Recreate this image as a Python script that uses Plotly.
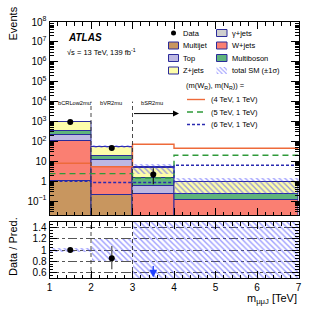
import numpy as np
import plotly.graph_objects as go

# ---------------- data ----------------
bin_edges = [1, 2, 3, 4, 7]
region_edges = [2, 3]
region_labels = ["bCRLow2mu", "bVR2mu", "bSR2mu"]

bkg_names = ["Multijet", "W+jets", "Top", "Multiboson", "Z+jets", "γ+jets"]
multijet = [1.0, 0.21, 0.0, 0.0]
wjets = [100.0, 5.2, 0.22, 0.11]
top = [120.0, 5.9, 0.36, 0.0]
multiboson = [110.0, 7.4, 0.90, 0.11]
zjets = [615.0, 36.0, 3.3, 0.70]
gjets = [4.0, 0.3, 0.1, 0.0]

data_vals = [950.0, 47.0, 2.2]
data_err_lo = [30.0, 11.0, 1.5]
data_err_hi = [32.0, 12.0, 2.3]

band_lo = [912.0, 44.0, 2.3, 0.22]
band_hi = [988.0, 66.0, 7.5, 1.5]

sig_4tev = [8.0, 5.3, 72.0, 45.0]
sig_5tev = [2.4, 2.4, 1.45, 20.0]
sig_6tev = [1.0, 0.86, 0.86, 6.3]

ymin, ymax = 0.02, 1e8
rmin, rmax = 0.5, 1.5

# ---------------- styles ----------------
W, H = 332, 316
FONT = "Liberation Sans"
bkg_colors = ["#c8965f", "#fa7f72", "#bdb8e2", "#5fb47c", "#fdfdaa", "#cfcfcf"]
edge_col = "#2b2b9a"
hatch_col = "#3c3cff"
sig_cols = ["#ee6a3a", "#2f9a3a", "#2a2ab0"]


def px(x):
    return x / W


def py(y):
    return 1 - y / H


edges = np.array(bin_edges, dtype=float)
centers = 0.5 * (edges[:-1] + edges[1:])
widths = edges[1:] - edges[:-1]

layers = np.array([multijet, wjets, top, multiboson, zjets, gjets])
cum = np.cumsum(layers, axis=0)
total = cum[-1]

fig = go.Figure()

# stacked backgrounds
for i, name in enumerate(bkg_names):
    base = cum[i] - layers[i]
    base = np.where(base <= 0, 1e-4, base)
    fig.add_trace(go.Bar(
        x=centers, y=layers[i], base=base, width=widths, name=name,
        marker=dict(color=bkg_colors[i], line=dict(color=edge_col, width=1)),
        xaxis="x", yaxis="y", showlegend=False, hoverinfo="skip"))

# uncertainty band (main)
blo = np.array(band_lo)
bhi = np.array(band_hi)
hatch = dict(shape="\\", fgcolor=hatch_col, bgcolor="rgba(0,0,0,0)", size=4, solidity=0.35, fillmode="overlay")
fig.add_trace(go.Bar(
    x=centers, y=bhi - blo, base=blo, width=widths,
    marker=dict(color="rgba(0,0,0,0)", pattern=hatch, line=dict(width=0)),
    xaxis="x", yaxis="y", showlegend=False, hoverinfo="skip"))

# ratio band
rlo = blo / total
rhi = bhi / total
fig.add_trace(go.Bar(
    x=centers, y=rhi - rlo, base=rlo, width=widths,
    marker=dict(color="rgba(0,0,0,0)", pattern=hatch, line=dict(width=0)),
    xaxis="x2", yaxis="y2", showlegend=False, hoverinfo="skip"))

# signal step lines
dashes = ["solid", "6px,4px", "3px,2px"]
for vals, col, d in zip([sig_4tev, sig_5tev, sig_6tev], sig_cols, dashes):
    fig.add_trace(go.Scatter(
        x=edges, y=list(vals) + [vals[-1]], mode="lines", line_shape="hv",
        line=dict(color=col, width=1.4, dash=d),
        xaxis="x", yaxis="y", showlegend=False, hoverinfo="skip"))

# region separators
for e in region_edges:
    for ya, lo, hi in [("y", ymin, 1e4), ("y2", rmin, rmax)]:
        fig.add_trace(go.Scatter(
            x=[e, e], y=[lo, hi], mode="lines",
            line=dict(color="#333333", width=0.9, dash="4px,3px"),
            xaxis="x" if ya == "y" else "x2", yaxis=ya, showlegend=False, hoverinfo="skip"))

# data
nd = len(data_vals)
fig.add_trace(go.Scatter(
    x=centers[:nd], y=data_vals, mode="markers",
    marker=dict(color="black", size=6),
    error_y=dict(type="data", symmetric=False, array=data_err_hi, arrayminus=data_err_lo,
                 color="black", thickness=1, width=0),
    xaxis="x", yaxis="y", showlegend=False, hoverinfo="skip"))

ratio = np.array(data_vals) / total[:nd]
r_hi = np.array(data_err_hi) / total[:nd]
r_lo = np.array(data_err_lo) / total[:nd]
inrange = ratio >= rmin
fig.add_trace(go.Scatter(
    x=[float(v) for v in centers[:nd][inrange]], y=[float(v) for v in ratio[inrange]], mode="markers",
    marker=dict(color="black", size=6),
    error_y=dict(type="data", symmetric=False, visible=True,
                 array=[float(v) for v in r_hi[inrange]], arrayminus=[float(v) for v in r_lo[inrange]],
                 color="#707070", thickness=1.5, width=0),
    xaxis="x2", yaxis="y2", showlegend=False, hoverinfo="skip"))

annotations = []
shapes = []
# out-of-range arrows in ratio
for c, r in zip(centers[:nd], ratio):
    if r < rmin:
        annotations.append(dict(
            x=c, y=rmin + 0.01, ax=c, ay=rmin + 0.24, xref="x2", yref="y2", axref="x2", ayref="y2",
            showarrow=True, arrowhead=2, arrowsize=1.2, arrowwidth=1.3, arrowcolor="#2040ff", text=""))

# region labels and SR arrow
for e, lab in zip(edges[:3], region_labels):
    annotations.append(dict(x=e + 0.16, y=np.log10(8500), xref="x", yref="y", text=lab, showarrow=False,
                            xanchor="left", font=dict(family=FONT, size=5.7, color="black"), yanchor="middle"))
annotations.append(dict(x=4.12, y=np.log10(2500), ax=3.0, ay=np.log10(2500), xref="x", yref="y",
                        axref="x", ayref="y", showarrow=True, arrowhead=2, arrowsize=1.2,
                        arrowwidth=1, arrowcolor="black", text=""))

# ---------------- axes ----------------
xdom = [px(49.5), px(298.5)]
main_dom = [py(215), py(22)]
ratio_dom = [py(278), py(222)]

yt = [1e-1, 1, 10, 1e2, 1e3, 1e4, 1e5, 1e6, 1e7, 1e8]
ytt = ["10<sup>−1</sup>", "1", "10", "10<sup>2</sup>", "10<sup>3</sup>", "10<sup>4</sup>",
       "10<sup>5</sup>", "10<sup>6</sup>", "10<sup>7</sup>", "10<sup>8</sup>"]
yminor = [m * 10.0 ** k for k in range(-2, 8) for m in range(2, 10) if ymin <= m * 10.0 ** k <= ymax]

axis_common = dict(showline=True, linecolor="black", linewidth=1, mirror="allticks",
                   ticks="inside", tickcolor="black", zeroline=False, automargin=False,
                   tickfont=dict(family=FONT, size=10, color="black"))

fig.update_layout(
    width=W, height=H, margin=dict(l=0, r=0, t=0, b=0),
    paper_bgcolor="white", plot_bgcolor="rgba(0,0,0,0)",
    barmode="overlay", showlegend=False, bargap=0,
    xaxis=dict(domain=xdom, range=[1, 7], anchor="y", tickvals=[1, 2, 3, 4, 5, 6, 7],
               ticklen=7, showticklabels=False, showgrid=False,
               minor=dict(dtick=0.2, ticklen=3.5, ticks="inside", tickcolor="black"), **axis_common),
    yaxis=dict(domain=main_dom, type="log", range=[np.log10(ymin), np.log10(ymax)], anchor="x",
               tickvals=yt, ticktext=ytt, ticklen=8, showgrid=False,
               minor=dict(tickvals=yminor, ticklen=4, ticks="inside", tickcolor="black"), **axis_common),
    xaxis2=dict(domain=xdom, range=[1, 7], anchor="y2", tickvals=[1, 2, 3, 4, 5, 6, 7],
                ticktext=["1", "2", "3", "4", "5", "6", "7"], ticklen=7, showgrid=False,
                minor=dict(dtick=0.2, ticklen=3.5, ticks="inside", tickcolor="black"), **axis_common),
    yaxis2=dict(domain=ratio_dom, range=[rmin, rmax], anchor="x2",
                tickvals=[0.6, 0.8, 1.0, 1.2, 1.4], ticktext=["0.6", "0.8", "1", "1.2", "1.4"],
                ticklen=7, minor=dict(dtick=0.05, ticklen=3.5, ticks="inside", tickcolor="black"),
                showgrid=True, gridcolor="#555555", gridwidth=0.7, griddash="dashdot", **axis_common),
    xaxis3=dict(domain=[0, 1], range=[0, W], anchor="y3", visible=False, fixedrange=True, automargin=False),
    yaxis3=dict(domain=[0, 1], range=[H, 0], anchor="x3", visible=False, fixedrange=True, automargin=False),
)

# ---------------- legend (drawn manually in pixel axis) ----------------
lf = dict(family=FONT, size=7.5, color="black")
rows = [33, 45.5, 58, 70.5]
col1 = [("Data", None), ("Multijet", bkg_colors[0]), ("Top", bkg_colors[2]), ("Z+jets", bkg_colors[4])]
col2 = [("γ+jets", bkg_colors[5]), ("W+jets", bkg_colors[1]), ("Multiboson", bkg_colors[3]),
        ("total SM (±1σ)", "hatch")]
for (lab, col), yy in zip(col1, rows):
    if col is None:
        fig.add_trace(go.Scatter(x=[173.5], y=[yy], mode="markers", marker=dict(color="black", size=5),
                                 xaxis="x3", yaxis="y3", showlegend=False, hoverinfo="skip"))
    else:
        shapes.append(dict(type="rect", xref="x3", yref="y3", x0=168.5, x1=178.5, y0=yy - 3.5, y1=yy + 3.5,
                           fillcolor=col, line=dict(color=edge_col, width=1)))
    annotations.append(dict(x=181, y=yy, xref="x3", yref="y3", text=lab, showarrow=False,
                            xanchor="left", yanchor="middle", font=lf))
for (lab, col), yy in zip(col2, rows):
    if col == "hatch":
        fig.add_trace(go.Scatter(x=[216.5, 227, 227, 216.5, 216.5], y=[yy - 3.5, yy - 3.5, yy + 3.5, yy + 3.5, yy - 3.5],
                                 mode="lines", fill="toself", fillcolor="rgba(0,0,0,0)", line=dict(width=0),
                                 fillpattern=dict(shape="\\", fgcolor=hatch_col, size=3, solidity=0.35),
                                 xaxis="x3", yaxis="y3", showlegend=False, hoverinfo="skip"))
    else:
        shapes.append(dict(type="rect", xref="x3", yref="y3", x0=216.5, x1=227, y0=yy - 3.5, y1=yy + 3.5,
                           fillcolor=col, line=dict(color=edge_col, width=1)))
    annotations.append(dict(x=230, y=yy, xref="x3", yref="y3", text=lab, showarrow=False,
                            xanchor="left", yanchor="middle", font=lf))

annotations.append(dict(x=184, y=86, xref="x3", yref="y3",
                        text="(m(W<sub>R</sub>), m(N<sub>R</sub>)) =", showarrow=False,
                        xanchor="left", yanchor="middle", font=lf))
sig_labels = ["(4 TeV, 1 TeV)", "(5 TeV, 1 TeV)", "(6 TeV, 1 TeV)"]
for lab, col, d, yy in zip(sig_labels, sig_cols, dashes, [99.5, 112, 124.5]):
    shapes.append(dict(type="line", xref="x3", yref="y3", x0=187, x1=205, y0=yy, y1=yy,
                       line=dict(color=col, width=1.4, dash=d)))
    annotations.append(dict(x=209, y=yy, xref="x3", yref="y3", text=lab, showarrow=False,
                            xanchor="left", yanchor="middle", font=lf))

# ATLAS label etc.
annotations.append(dict(x=66, y=37, xref="x3", yref="y3", text="<b><i>ATLAS</i></b>", showarrow=False,
                        xanchor="left", yanchor="middle", font=dict(family=FONT, size=10, color="black")))
annotations.append(dict(x=65, y=52, xref="x3", yref="y3", text="√s = 13 TeV, 139 fb<sup>-1</sup>",
                        showarrow=False, xanchor="left", yanchor="middle", font=dict(family=FONT, size=7.5, color="black")))

# axis titles
annotations.append(dict(x=12.5, y=5, xref="x3", yref="y3", text="Events", textangle=-90, showarrow=False,
                        xanchor="center", yanchor="top", font=dict(family=FONT, size=11, color="black")))
annotations.append(dict(x=12.5, y=278, xref="x3", yref="y3", text="Data / Pred.", textangle=-90, showarrow=False,
                        xanchor="center", yanchor="bottom", font=dict(family=FONT, size=11, color="black")))
annotations.append(dict(x=299, y=299, xref="x3", yref="y3", text="m<sub>μμJ</sub> [TeV]", showarrow=False,
                        xanchor="right", yanchor="middle", font=dict(family=FONT, size=11, color="black")))

fig.update_layout(annotations=annotations, shapes=shapes)
fig.write_html("out.html", config={"displayModeBar": False},
               post_script="document.body.style.margin='0';document.body.style.overflow='hidden';")
